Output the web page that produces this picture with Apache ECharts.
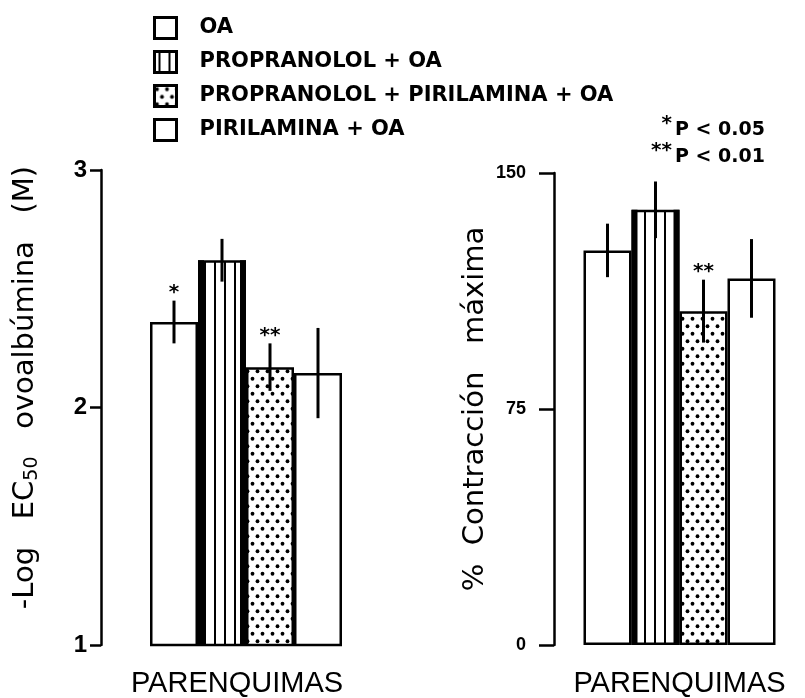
<!DOCTYPE html>
<html><head><meta charset="utf-8">
<script src="https://cdn.jsdelivr.net/npm/echarts@6/dist/echarts.min.js"></script>
<style>html,body{margin:0;padding:0;background:#fff}#c{width:805px;height:698px}</style>
</head><body><div id="c"></div>
<script>
// ---- data ----
const categories = ['PARENQUIMAS'];
const groups = ['OA', 'PROPRANOLOL + OA', 'PROPRANOLOL + PIRILAMINA + OA', 'PIRILAMINA + OA'];
const ec50Mean = [2.36, 2.62, 2.17, 2.145];
const ec50Err = [0.09, 0.09, 0.10, 0.19];
const ec50Stars = ['*', '', '**', ''];
const contrMean = [125.4, 138.3, 106.1, 116.5];
const contrErr = [8.5, 9.0, 10.0, 12.5];
const contrStars = ['', '', '**', ''];
const ec50Ticks = [1, 2, 3];
const contrTicks = [0, 75, 150];
const pNotes = [['*', 'P < 0.05'], ['**', 'P < 0.01']];

// ---- fills ----
function stripes() {
  const c = document.createElement('canvas'); c.width = 10; c.height = 10;
  const g = c.getContext('2d');
  g.fillStyle = '#fff'; g.fillRect(0, 0, 10, 10);
  g.fillStyle = '#000'; g.fillRect(4, 0, 2, 10);
  return c;
}
function dots() {
  const c = document.createElement('canvas'); c.width = 10; c.height = 15;
  const g = c.getContext('2d');
  g.fillStyle = '#fff'; g.fillRect(0, 0, 10, 15);
  g.fillStyle = '#000';
  [[2.5, 3.75], [7.5, 11.25]].forEach(p => { g.beginPath(); g.arc(p[0], p[1], 1.9, 0, Math.PI * 2); g.fill(); });
  return c;
}
const fills = ['#fff', { image: stripes(), repeat: 'repeat' }, { image: dots(), repeat: 'repeat' }, '#fff'];
const BAR_W = 48;

function barSeries(k, means) {
  return means.map((m, i) => ({
    type: 'bar', name: groups[i], xAxisIndex: k, yAxisIndex: k,
    data: [m], barWidth: BAR_W, barGap: '0%',
    itemStyle: { color: fills[i], borderColor: '#000', borderWidth: 2.5 },
    emphasis: { disabled: true }, silent: true
  }));
}
function errSeries(k, means, errs, stars, axisMin) {
  return {
    type: 'custom', xAxisIndex: k, yAxisIndex: k, z: 5, silent: true,
    data: means.map((m, i) => [0, m, errs[i], i]),
    encode: { x: 0, y: 1 },
    renderItem(params, api) {
      const m = api.value(1), e = api.value(2), i = api.value(3);
      const top = api.coord([0, m]);
      const cx = top[0] + (i - 1.5) * BAR_W;
      const hi = api.coord([0, m + e])[1], lo = api.coord([0, m - e])[1];
      const base = api.coord([0, axisMin])[1];
      const ch = [];
      if (i === 1) {
        ch.push({ type: 'rect', shape: { x: cx - BAR_W / 2, y: top[1], width: 6, height: base - top[1] }, style: { fill: '#000' } });
        ch.push({ type: 'rect', shape: { x: cx + BAR_W / 2 - 6, y: top[1], width: 6, height: base - top[1] }, style: { fill: '#000' } });
      }
      ch.push({ type: 'line', shape: { x1: cx, y1: hi, x2: cx, y2: lo }, style: { stroke: '#000', lineWidth: 3 } });
      const s = stars[params.dataIndex];
      if (s) ch.push({ type: 'text', x: cx, y: hi - 8, style: { text: s, textAlign: 'center', textVerticalAlign: 'middle', font: 'bold 20px "DejaVu Sans"', fill: '#000' } });
      return { type: 'group', children: ch };
    }
  };
}

const axisCommon = {
  axisLine: { show: true, lineStyle: { color: '#000', width: 2.5 } },
  splitLine: { show: false },
  nameLocation: 'middle', nameRotate: 90
};
const nameStyle = {
  fontFamily: 'DejaVu Sans', fontSize: 29, color: '#000', lineHeight: 34,
  rich: { sub: { fontFamily: 'DejaVu Sans', fontSize: 19, lineHeight: 19, verticalAlign: 'bottom', color: '#000' } }
};

const option = {
  backgroundColor: '#fff',
  animation: false,
  legend: {
    data: groups, orient: 'vertical', left: 148, top: 11,
    itemWidth: 22, itemHeight: 21, itemGap: 10, icon: 'rect', selectedMode: false,
    itemStyle: { borderColor: '#000', borderWidth: 3 },
    textStyle: { fontFamily: 'DejaVu Sans', fontWeight: 'bold', fontSize: 21, color: '#000', padding: [0, 0, 0, 18], lineHeight: 21 }
  },
  grid: [
    { left: 101, top: 170, width: 290, bottom: 53 },
    { left: 554, top: 173, width: 279, bottom: 51 }
  ],
  xAxis: [0, 1].map(k => ({
    type: 'category', gridIndex: k, data: categories,
    axisLine: { show: false }, axisTick: { show: false },
    axisLabel: { fontFamily: 'Liberation Sans', fontSize: 29, color: '#000', margin: 24, padding: k === 0 ? [0, 18, 0, 0] : 0 }
  })),
  yAxis: [
    Object.assign({}, axisCommon, {
      type: 'value', gridIndex: 0, min: 1, max: 3,
      axisTick: { show: true, length: 11, customValues: ec50Ticks, lineStyle: { color: '#000', width: 2.5 } },
      axisLabel: { margin: 14, customValues: ec50Ticks, fontFamily: '"Liberation Sans Narrow", "Liberation Sans"', fontWeight: 'bold', fontSize: 24, color: '#000' },
      name: '-Log   EC{sub|50}   ovoalbúmina   (M)', nameGap: 59,
      nameTextStyle: Object.assign({}, nameStyle, { padding: [0, 0, 0, 40] })
    }),
    Object.assign({}, axisCommon, {
      type: 'value', gridIndex: 1, min: 0, max: 150,
      axisTick: { show: true, length: 15, customValues: contrTicks, lineStyle: { color: '#000', width: 2.5 } },
      axisLabel: { margin: 28, customValues: contrTicks, fontFamily: '"Liberation Sans Narrow", "Liberation Sans"', fontWeight: 'bold', fontSize: 18, color: '#000' },
      name: '%  Contracción   máxima', nameGap: 52,
      nameTextStyle: nameStyle
    })
  ],
  graphic: pNotes.flatMap((n, r) => [
    { type: 'text', x: 672, y: 130 + r * 27 - 6, style: { text: n[0], textAlign: 'right', textVerticalAlign: 'middle', font: 'bold 20px "DejaVu Sans"', fill: '#000' } },
    { type: 'text', x: 675, y: 130 + r * 27, style: { text: n[1], textAlign: 'left', textVerticalAlign: 'middle', font: 'bold 19px "DejaVu Sans"', fill: '#000' } }
  ]),
  series: [
    ...barSeries(0, ec50Mean),
    ...barSeries(1, contrMean),
    errSeries(0, ec50Mean, ec50Err, ec50Stars, 1),
    errSeries(1, contrMean, contrErr, contrStars, 0)
  ]
};
const chart = echarts.init(document.getElementById('c'), null, { renderer: 'canvas' });
chart.setOption(option);
</script></body></html>
